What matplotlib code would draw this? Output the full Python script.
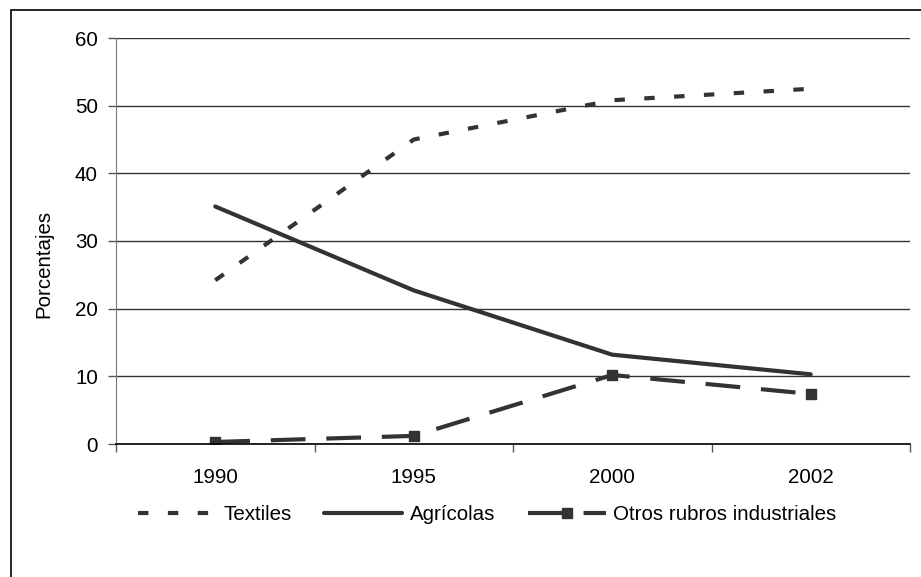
import matplotlib
matplotlib.use("Agg")
import matplotlib.pyplot as plt
from matplotlib.patches import Rectangle

plt.rcParams['font.family'] = ['Liberation Sans', 'DejaVu Sans']
plt.rcParams['lines.scale_dashes'] = False

years = ["1990", "1995", "2000", "2002"]
textiles = [24.2, 45.0, 50.8, 52.5]
agricolas = [35.1, 22.7, 13.2, 10.3]
otros = [0.3, 1.2, 10.2, 7.4]
yticks = [0, 10, 20, 30, 40, 50, 60]

W, H = 921, 577
fs = 14.8
fig = plt.figure(figsize=(W/100, H/100), dpi=100)
fig.patches.append(Rectangle((11/W, -0.1), 1.2, 1 - 10/H + 0.1, transform=fig.transFigure,
                             fill=False, edgecolor='black', linewidth=1.2))

ax = fig.add_axes([116/W, 1 - 444/H, (910-116)/W, (444-38)/H])
x = list(range(len(years)))
col = '#333333'
lw = 3.0
l1, = ax.plot(x, textiles, color=col, lw=lw, dashes=(7.5, 14), dash_capstyle='butt', label='Textiles')
l2, = ax.plot(x, agricolas, color=col, lw=lw, solid_capstyle='round', label='Agrícolas')
l3, = ax.plot(x, otros, color=col, lw=lw, dashes=(25, 15), dash_capstyle='butt',
              marker='s', markersize=6.5, markerfacecolor=col, markeredgecolor=col,
              label='Otros rubros industriales')

ax.set_xlim(-0.5, len(years) - 0.5)
ax.set_ylim(0, 60)
ax.set_yticks(yticks)
ax.set_yticklabels([str(v) for v in yticks], fontsize=fs)
ax.set_xticks(x)
ax.set_xticklabels(years, fontsize=fs)
ax.set_xticks([i - 0.5 for i in range(len(years) + 1)], minor=True)
ax.tick_params(axis='x', which='major', length=0, pad=17)
ax.tick_params(axis='x', which='minor', length=6, width=1, color='#555555', direction='out')
ax.tick_params(axis='y', length=6, width=1, color='#555555', direction='out', pad=7)
ax.grid(axis='y', color='#333333', linewidth=1)
ax.set_axisbelow(True)
for s in ['top', 'right']:
    ax.spines[s].set_visible(False)
ax.spines['left'].set_color('#777777')
ax.spines['bottom'].set_color('black')
ax.spines['bottom'].set_linewidth(1.2)
ax.set_ylabel('Porcentajes', fontsize=fs)
ax.yaxis.set_label_coords(-63/(910-116), (444-264)/(444-38))

fig.legend(handles=[l1, l2, l3], loc='center', bbox_to_anchor=(487/W, 1 - 515/H),
           ncol=3, frameon=False, fontsize=fs, handlelength=3.8, columnspacing=1.6,
           handletextpad=0.35)

fig.savefig('out.png', dpi=100)
